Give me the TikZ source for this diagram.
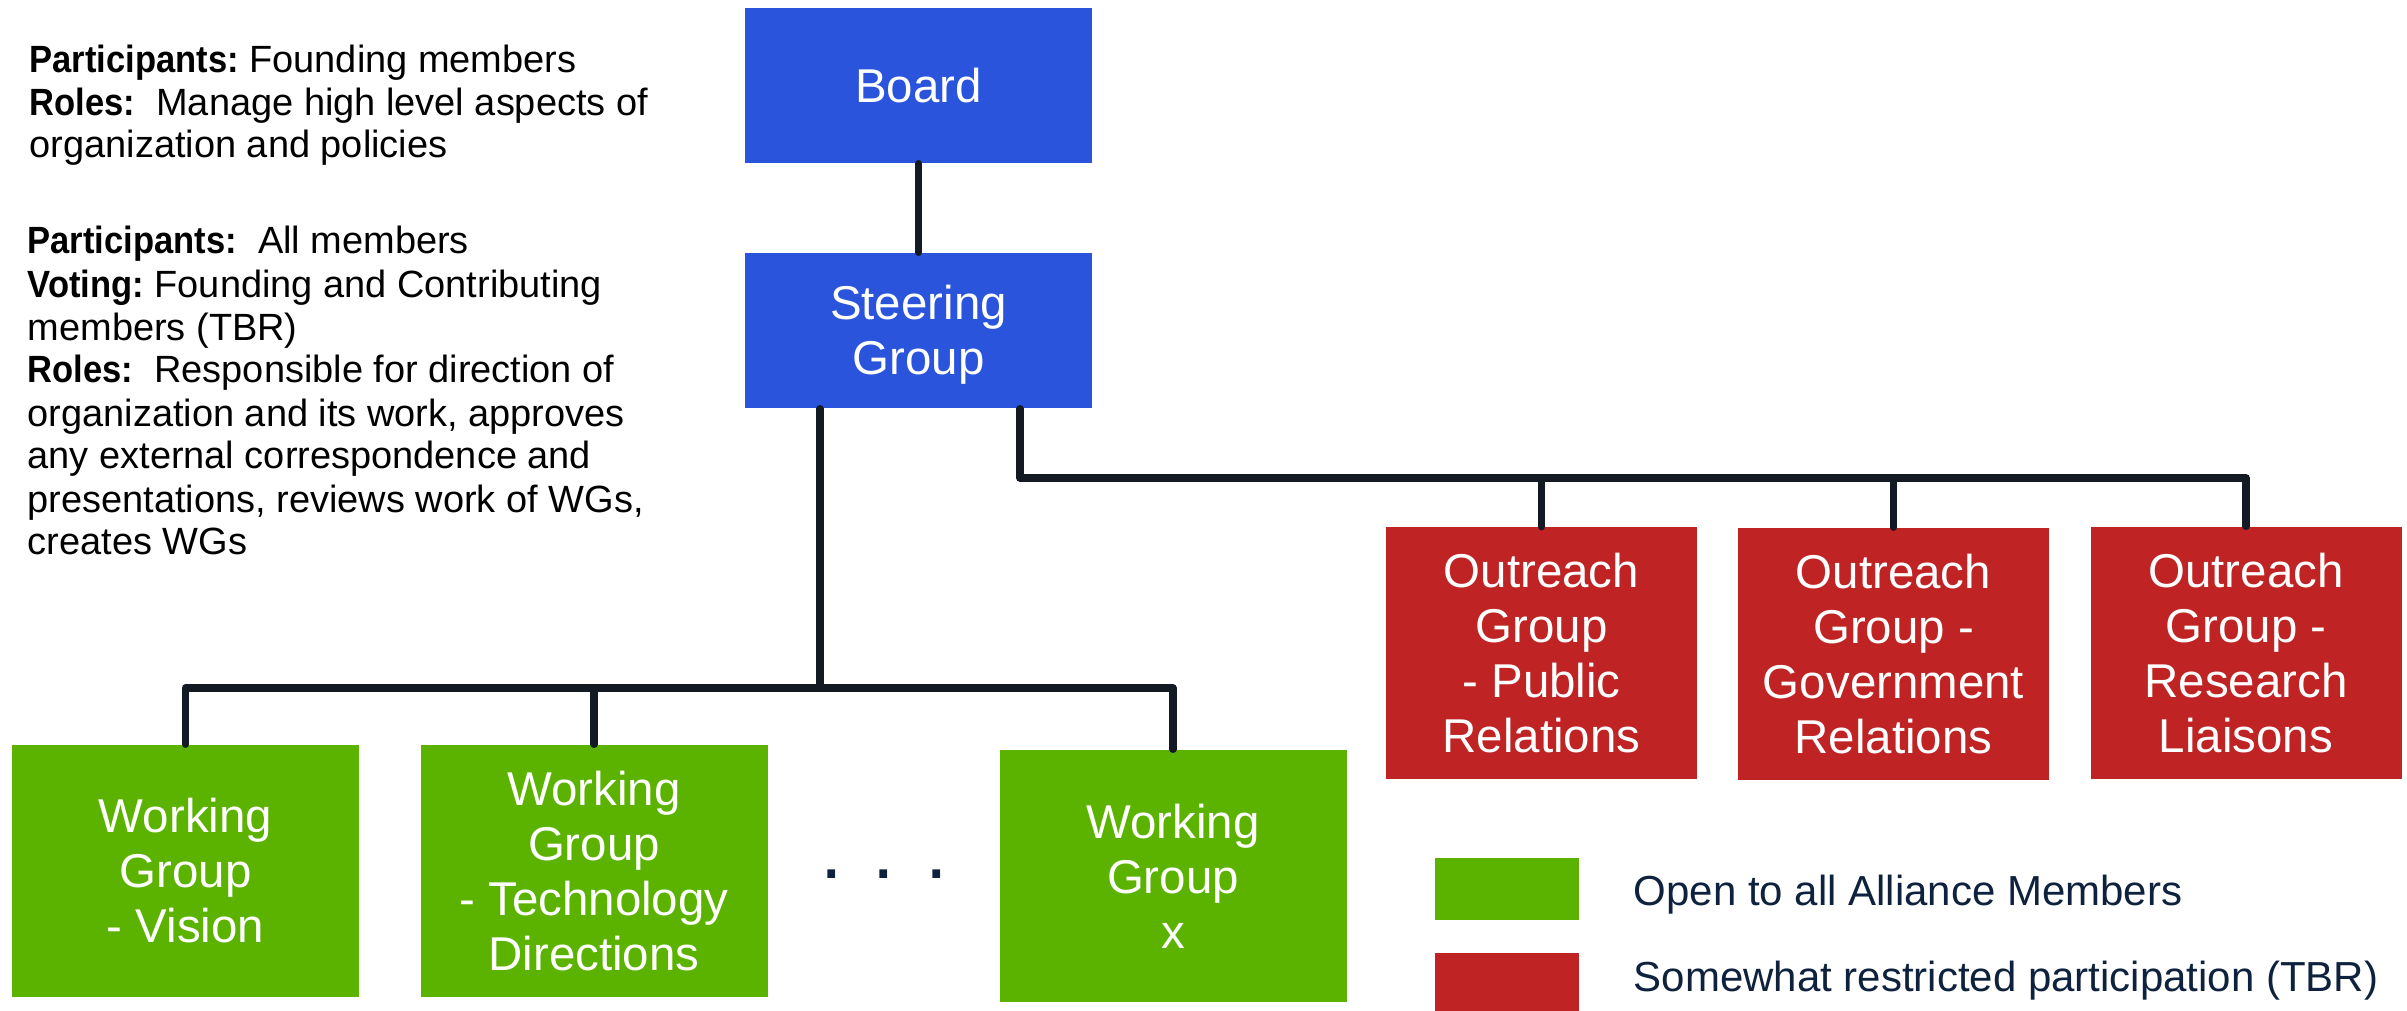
\documentclass[tikz,border=0pt]{standalone}
\usepackage{fontspec}
\usepackage{graphicx}
\setmainfont{Liberation Sans}
\definecolor{bblue}{RGB}{42,84,220}
\definecolor{rred}{RGB}{191,35,36}
\definecolor{ggreen}{RGB}{91,179,0}
\definecolor{lline}{RGB}{20,26,35}
\definecolor{navy}{RGB}{14,34,62}
\newcommand{\lbl}[1]{\scalebox{0.91}[1]{\textbf{#1}}}
\begin{document}
\begin{tikzpicture}[x=1cm,y=1cm,
  box/.style={rectangle, inner sep=0pt, text=white, align=center,
    font=\fontsize{13.5}{15.65}\selectfont},
  bluebox/.style={box, fill=bblue, minimum width=3.47cm, minimum height=1.55cm},
  greenbox/.style={box, fill=ggreen, minimum width=3.47cm, minimum height=2.52cm},
  redbox/.style={box, fill=rred, minimum width=3.11cm, minimum height=2.52cm},
  conn/.style={draw=lline, line width=2.1pt, line cap=round, line join=round},
  info/.style={anchor=base west, inner sep=0pt, text=black,
    font=\fontsize{10.8}{12.6}\selectfont},
  legtext/.style={anchor=base west, inner sep=0pt, text=navy,
    font=\fontsize{11.95}{14}\selectfont},
  legsq/.style={rectangle, inner sep=0pt, minimum width=1.44cm}
]
\useasboundingbox (0,0) rectangle (24.07,-10.11);

% boxes
\node[bluebox] (board) at (9.185,-0.855) {Board};
\node[bluebox] (steer) at (9.185,-3.305) {Steering\\Grou\smash{p}};

\node[greenbox] (wg1) at (1.855,-8.71) {Working\\Group\\- Vision};
\node[greenbox] (wg2) at (5.94,-8.71) {Working\\Group\\- Technology\\Directions};
\node[greenbox] (wgx) at (11.73,-8.76) {Working\\Group\\x};

\node[redbox] (r1) at (15.415,-6.535) {Outreach\\Group\\- Public\\Relations};
\node[redbox] (r2) at (18.935,-6.54) {Outreach\\Group -\\Government\\Relations};
\node[redbox] (r3) at (22.46,-6.53) {Outreach\\Group -\\Research\\Liaisons};

\node[anchor=base, inner sep=0pt, text=navy, font=\fontsize{23}{26}\selectfont] (dots) at (8.84,-8.79) {. . .};

% connectors
\draw[conn] (board.south) -- (steer.north);

\coordinate (gbus) at (8.20,-6.88);
\draw[conn] (steer.south -| gbus) -- (gbus);
\draw[conn] (wg1.north) -- (wg1.north |- gbus) -- (wgx.north |- gbus) -- (wgx.north);
\draw[conn] (wg2.north) -- (wg2.north |- gbus);

\coordinate (rbus) at (10.20,-4.78);
\draw[conn] (steer.south -| rbus) -- (rbus) -- (r3.north |- rbus) -- (r3.north);
\draw[conn] (r1.north) -- (r1.north |- rbus);
\draw[conn] (r2.north) -- (r2.north |- rbus);

% left info text
\node[info] (t1) at (0.29,-0.73) {\lbl{Participants:} Founding members};
\node[info] (t2) at (0.29,-1.16) {\lbl{Roles:}~ Manage high level aspects of};
\node[info] (t3) at (0.29,-1.58) {organization and policies};

\node[info] (s1) at (0.27,-2.54) {\lbl{Participants:}~ All members};
\node[info] (s2) at (0.27,-2.98) {\lbl{Voting:} Founding and Contributing};
\node[info] (s3) at (0.27,-3.41) {members (TBR)};
\node[info] (s4) at (0.27,-3.83) {\lbl{Roles:}~ Responsible for direction of};
\node[info] (s5) at (0.27,-4.27) {organization and its work, approves};
\node[info] (s6) at (0.27,-4.69) {any external correspondence and};
\node[info] (s7) at (0.27,-5.13) {presentations, reviews work of WGs,};
\node[info] (s8) at (0.27,-5.55) {creates WGs};

% legend
\node[legsq, fill=ggreen, minimum height=0.62cm] (lg) at (15.07,-8.89) {};
\node[legsq, fill=rred, minimum height=0.58cm] (lr) at (15.07,-9.82) {};
\node[legtext] (lgt) at (16.33,-9.06) {Open to all Alliance Members};
\node[legtext] (lrt) at (16.33,-9.91) {Somewhat restricted participation (TBR)};
\end{tikzpicture}
\end{document}
